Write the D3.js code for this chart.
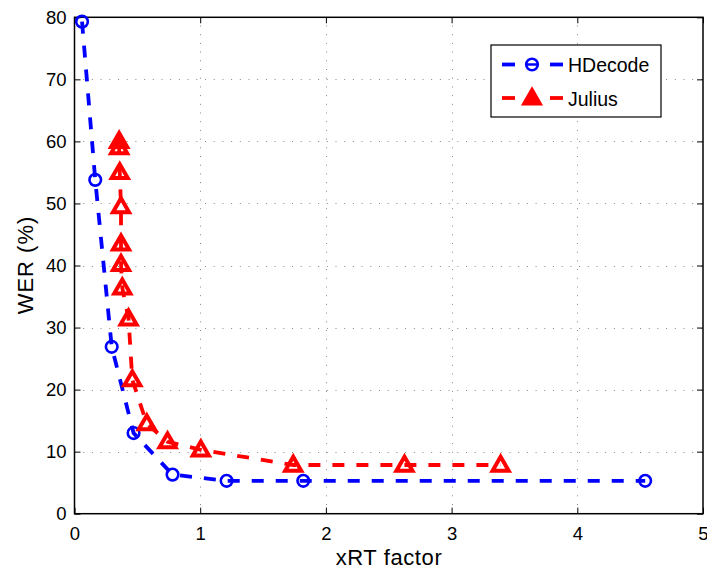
<!DOCTYPE html>
<html>
<head>
<meta charset="utf-8">
<script src="https://cdn.jsdelivr.net/npm/d3@7.9.0/dist/d3.min.js"></script>
<style>
  body { margin: 0; background: #fff; }
  text { font-family: "Liberation Sans", Arial, sans-serif; }
</style>
</head>
<body>
<svg width="707" height="570"></svg>
<script>
// data
const hdecodeX = [0.06, 0.165, 0.296, 0.47, 0.78, 1.21, 1.82, 4.54];
const hdecodeY = [79.3, 53.8, 26.9, 13.0, 6.3, 5.3, 5.3, 5.3];
const juliusX = [0.355, 0.355, 0.36, 0.37, 0.37, 0.37, 0.38, 0.43, 0.46, 0.575, 0.74, 1.005, 1.74, 2.625, 3.39];
const juliusY = [60.0, 59.0, 55.0, 49.5, 43.5, 40.2, 36.4, 31.4, 21.6, 14.5, 11.6, 10.3, 7.85, 7.85, 7.85];
const xTicks = [0, 1, 2, 3, 4, 5];
const yTicks = [0, 10, 20, 30, 40, 50, 60, 70, 80];

const svg = d3.select('svg');
const plotL = 74.5, plotR = 703, plotT = 17.3, plotB = 513.7;

const x = d3.scaleLinear().domain([0, 5]).range([plotL, plotR]);
const y = d3.scaleLinear().domain([0, 80]).range([plotB, plotT]);

// dotted grid
const grid = svg.append('g').attr('stroke', '#888').attr('stroke-width', 1)
  .attr('stroke-dasharray', '1,7.7');
grid.selectAll('.gx').data(xTicks.slice(1, -1)).join('line')
  .attr('x1', d => Math.round(x(d)) + 0.5).attr('x2', d => Math.round(x(d)) + 0.5)
  .attr('y1', plotB).attr('y2', plotT);
grid.selectAll('.gy').data(yTicks.slice(1, -1)).join('line')
  .attr('y1', d => Math.round(y(d)) + 0.5).attr('y2', d => Math.round(y(d)) + 0.5)
  .attr('x1', plotL).attr('x2', plotR);

// axes with inward ticks
const axisStyle = g => {
  g.select('.domain').remove();
  g.selectAll('line').attr('stroke', '#000').attr('stroke-width', 1);
  g.selectAll('text').attr('font-size', 18.5).attr('fill', '#000');
};
svg.append('g').attr('transform', `translate(0,${plotB})`)
  .call(d3.axisBottom(x).tickValues(xTicks).tickSize(-6).tickPadding(13).tickFormat(d3.format('d')))
  .call(axisStyle);
svg.append('g').attr('transform', `translate(0,${plotT})`)
  .call(d3.axisTop(x).tickValues(xTicks).tickSize(-6).tickFormat(''))
  .call(axisStyle);
svg.append('g').attr('transform', `translate(${plotL},0)`)
  .call(d3.axisLeft(y).tickValues(yTicks).tickSize(-6).tickPadding(8).tickFormat(d3.format('d')))
  .call(axisStyle);
svg.append('g').attr('transform', `translate(${plotR},0)`)
  .call(d3.axisRight(y).tickValues(yTicks).tickSize(-6).tickFormat(''))
  .call(axisStyle);

// frame
svg.append('rect').attr('x', plotL).attr('y', plotT)
  .attr('width', plotR - plotL).attr('height', plotB - plotT)
  .attr('fill', 'none').attr('stroke', '#000').attr('stroke-width', 1.5);

// labels
svg.append('text').attr('x', 389).attr('y', 565)
  .attr('text-anchor', 'middle').attr('font-size', 22).attr('letter-spacing', 0.6)
  .text('xRT factor');
svg.append('text').attr('transform', `translate(33,265) rotate(-90)`)
  .attr('text-anchor', 'middle').attr('font-size', 22).attr('letter-spacing', 1)
  .text('WER (%)');

// series
const line = d3.line().x(d => x(d[0])).y(d => y(d[1]));
const tri = d3.symbol().type(d3.symbolTriangle).size(112);

const series = [
  { name: 'HDecode', xs: hdecodeX, ys: hdecodeY, color: '#0000ff', marker: 'circle' },
  { name: 'Julius', xs: juliusX, ys: juliusY, color: '#ff0000', marker: 'triangle' }
];

series.forEach(s => {
  const pts = s.xs.map((v, i) => [v, s.ys[i]]);
  const g = svg.append('g');
  g.append('path').attr('d', line(pts)).attr('fill', 'none')
    .attr('stroke', s.color).attr('stroke-width', 3.8).attr('stroke-dasharray', '12,12');
  if (s.marker === 'circle') {
    g.selectAll('circle').data(pts).join('circle')
      .attr('cx', d => x(d[0])).attr('cy', d => y(d[1])).attr('r', 5.8)
      .attr('fill', 'none').attr('stroke', s.color).attr('stroke-width', 2.6);
  } else {
    g.selectAll('path.m').data(pts).join('path').attr('class', 'm')
      .attr('transform', d => `translate(${x(d[0])},${y(d[1]) + 1})`)
      .attr('d', tri).attr('fill', 'none').attr('stroke', s.color)
      .attr('stroke-width', 4).attr('stroke-linejoin', 'miter');
  }
});

// legend
const lg = svg.append('g');
lg.append('rect').attr('x', 491).attr('y', 45).attr('width', 170).attr('height', 72)
  .attr('fill', '#fff').attr('stroke', '#000').attr('stroke-width', 1.2);
series.forEach((s, i) => {
  const cy = 64.5 + i * 33.5;
  const row = lg.append('g');
  row.append('line').attr('x1', 502).attr('x2', 515).attr('y1', cy).attr('y2', cy)
    .attr('stroke', s.color).attr('stroke-width', 3.8);
  row.append('line').attr('x1', 550).attr('x2', 563).attr('y1', cy).attr('y2', cy)
    .attr('stroke', s.color).attr('stroke-width', 3.8);
  if (s.marker === 'circle') {
    row.append('circle').attr('cx', 532).attr('cy', cy).attr('r', 5.8)
      .attr('fill', 'none').attr('stroke', s.color).attr('stroke-width', 2.6);
    row.append('line').attr('x1', 527).attr('x2', 537).attr('y1', cy).attr('y2', cy)
      .attr('stroke', s.color).attr('stroke-width', 2.5);
  } else {
    row.append('path').attr('transform', `translate(532,${cy + 1})`)
      .attr('d', tri).attr('fill', s.color).attr('stroke', s.color).attr('stroke-width', 3.5);
  }
  row.append('text').attr('x', 568).attr('y', cy + 7.5).attr('font-size', 19.5).text(s.name);
});
</script>
</body>
</html>
